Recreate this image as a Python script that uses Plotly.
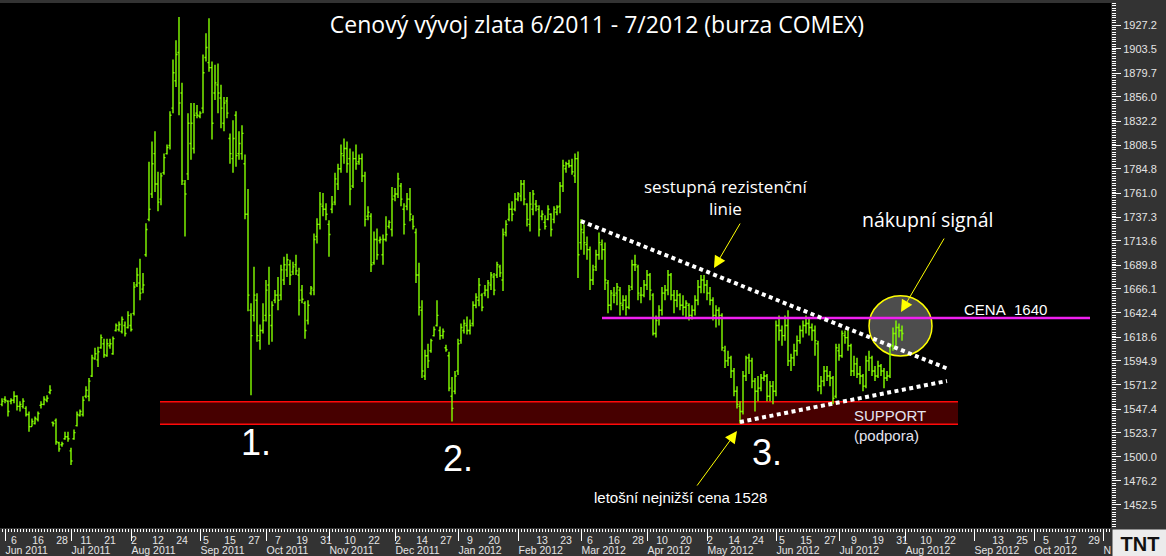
import pandas as pd
import plotly.graph_objects as go

# ---------------- calendar (trading days shown by the chart) ----------------
HOLIDAYS = ["2011-07-04", "2011-12-26", "2012-01-02", "2012-01-16", "2012-04-06"]
trade_days = [d for d in pd.bdate_range("2011-05-31", "2012-07-31")
              if d.strftime("%Y-%m-%d") not in HOLIDAYS]

# ---------------- daily OHLC, 31 May 2011 - 29 Feb 2012 ----------------
opens_a = [1552,1557,1555,1555,1556,1560,1550,1550,1548,1542,
           1530,1533,1537,1551,1552,1556,1564,1534,1536,1514,
           1512,1518,1520,1506,1518,1531,1541,1542,1560,1560,
           1580,1597,1596,1608,1612,1600,1610,1602,1625,1626,
           1624,1630,1628,1630,1642,1670,1672,1666,1700,1735,
           1760,1800,1770,1755,1781,1800,1808,1845,1872,1900,
           1860,1770,1780,1810,1805,1840,1837,1845,1895,1890,
           1885,1860,1868,1855,1830,1852,1815,1795,1838,1800,
           1800,1790,1740,1645,1640,1655,1615,1625,1640,1670,
           1630,1655,1660,1660,1675,1685,1690,1683,1690,1680,
           1665,1652,1635,1662,1665,1718,1730,1748,1745,1730,
           1745,1752,1770,1785,1798,1805,1795,1768,1795,1792,
           1795,1778,1738,1738,1692,1715,1714,1700,1715,1728,
           1725,1758,1760,1768,1745,1748,1755,1735,1722,1680,
           1645,1580,1600,1605,1620,1630,1625,1620,1608,1600,
           1560,1565,1585,1615,1625,1630,1625,1632,1650,1655,
           1660,1662,1665,1670,1678,1680,1688,1675,1722,1735,
           1745,1745,1755,1758,1770,1750,1730,1745,1750,1745,
           1738,1732,1735,1740,1735,1742,1748,1768,1785,1790,
           1788,1778,1795]
highs_a = [1558,1560,1556,1558,1565,1561,1555,1558,1550,1545,
           1538,1540,1545,1555,1560,1561,1571,1535,1538,1515,
           1515,1525,1525,1509,1527,1545,1547,1560,1570,1578,
           1601,1608,1609,1621,1617,1617,1617,1619,1632,1634,
           1639,1634,1644,1642,1673,1687,1696,1682,1731,1792,
           1812,1822,1782,1781,1800,1809,1842,1893,1912,1935,
           1870,1774,1840,1850,1850,1848,1842,1898,1919,1934,
           1891,1888,1889,1868,1856,1856,1820,1833,1842,1822,
           1828,1799,1765,1652,1688,1662,1631,1652,1675,1688,
           1654,1665,1678,1690,1698,1701,1695,1693,1700,1687,
           1670,1654,1655,1669,1721,1736,1762,1761,1751,1734,
           1758,1781,1790,1809,1815,1812,1805,1802,1809,1799,
           1800,1782,1748,1741,1723,1726,1718,1720,1738,1734,
           1767,1766,1781,1771,1751,1761,1766,1739,1726,1692,
           1655,1606,1612,1617,1629,1655,1629,1627,1611,1604,
           1579,1585,1617,1632,1636,1639,1636,1654,1662,1677,
           1662,1670,1675,1683,1682,1693,1690,1726,1734,1751,
           1753,1761,1762,1774,1774,1751,1762,1764,1754,1749,
           1744,1739,1749,1741,1748,1749,1772,1794,1792,1794,
           1795,1800,1802]
lows_a = [1550,1553,1540,1552,1553,1546,1545,1548,1540,1525,
          1530,1532,1535,1548,1551,1554,1562,1530,1512,1505,
          1510,1517,1515,1492,1517,1530,1540,1540,1558,1555,
          1579,1596,1589,1607,1598,1599,1607,1601,1624,1624,
          1622,1619,1627,1624,1640,1668,1655,1662,1698,1733,
          1756,1762,1743,1749,1779,1799,1804,1840,1866,1838,
          1769,1718,1774,1794,1800,1835,1835,1840,1891,1881,
          1814,1853,1840,1825,1822,1835,1790,1781,1787,1794,
          1794,1735,1644,1561,1634,1614,1606,1622,1634,1611,
          1614,1652,1645,1655,1670,1678,1670,1680,1680,1640,
          1652,1617,1631,1660,1660,1711,1725,1738,1734,1698,
          1741,1749,1764,1781,1790,1781,1749,1766,1784,1789,
          1772,1728,1734,1683,1690,1695,1711,1690,1713,1726,
          1718,1753,1756,1748,1720,1744,1733,1725,1672,1640,
          1578,1576,1588,1603,1619,1629,1616,1617,1604,1565,
          1535,1562,1581,1612,1622,1621,1621,1629,1647,1649,
          1644,1659,1657,1665,1660,1677,1678,1664,1718,1733,
          1733,1743,1753,1753,1749,1728,1723,1739,1743,1718,
          1734,1725,1734,1718,1731,1739,1741,1762,1781,1786,
          1779,1771,1677]
closes_a = [1555,1556,1545,1556,1560,1550,1552,1555,1542,1530,
            1535,1538,1543,1552,1557,1558,1566,1533,1515,1508,
            1513,1520,1518,1496,1524,1542,1545,1556,1566,1575,
            1598,1602,1604,1618,1601,1612,1612,1617,1630,1631,
            1636,1622,1640,1626,1668,1680,1662,1670,1725,1745,
            1790,1770,1752,1778,1796,1806,1838,1880,1898,1850,
            1773,1760,1830,1830,1838,1838,1840,1880,1905,1885,
            1830,1870,1860,1845,1850,1840,1800,1815,1798,1810,
            1820,1740,1660,1620,1660,1620,1625,1635,1665,1640,
            1650,1660,1655,1685,1690,1695,1680,1688,1684,1655,
            1656,1625,1650,1667,1715,1730,1750,1745,1740,1720,
            1750,1775,1785,1800,1805,1790,1765,1795,1790,1795,
            1778,1735,1742,1690,1715,1700,1715,1715,1720,1732,
            1755,1760,1775,1755,1730,1755,1740,1728,1680,1648,
            1585,1600,1595,1615,1626,1640,1620,1624,1606,1568,
            1548,1580,1612,1628,1632,1625,1630,1650,1658,1670,
            1648,1665,1672,1680,1665,1690,1682,1720,1730,1745,
            1740,1755,1760,1770,1755,1735,1750,1760,1748,1725,
            1740,1728,1745,1725,1745,1747,1768,1788,1790,1788,
            1782,1795,1700]

# ---------------- daily OHLC, 1 Mar 2012 - 31 Jul 2012 ----------------
opens_b = [1712,1722,1710,1705,1675,1688,1700,1710,1705,1672,1650,1660,1662,1665,1650,1655,1648,1668,1690,1688,1660,1660,
           1670,1680,1660,1622,1638,1645,1662,1665,1680,1660,1655,1660,1650,1648,1650,1640,1645,1655,1668,1675,
           1670,1662,1655,1640,1645,1640,1605,1595,1598,1585,1565,1550,1545,1580,1598,1595,1575,1565,1568,1578,1580,1560,1570,
           1565,1630,1625,1620,1630,1595,1598,1605,1615,1625,1630,1632,1628,1625,1612,1570,1575,1585,1580,1578,1560,
           1605,1600,1620,1618,1610,1585,1592,1582,1580,1570,1595,1598,1585,1580,1590,1585,1578,1580,1610,1622,1628,1625]
highs_b = [1735,1730,1718,1708,1690,1705,1722,1715,1712,1675,1665,1668,1672,1668,1660,1660,1670,1695,1700,1690,1668,1675,
           1685,1682,1662,1640,1650,1668,1670,1685,1682,1665,1665,1662,1660,1655,1652,1650,1660,1675,1680,1680,
           1675,1668,1658,1650,1648,1642,1610,1605,1600,1588,1570,1555,1585,1600,1602,1598,1578,1580,1582,1585,1582,1575,1575,
           1635,1640,1630,1640,1645,1602,1612,1620,1630,1635,1640,1638,1632,1630,1615,1580,1590,1590,1585,1580,1612,
           1612,1625,1625,1628,1612,1600,1598,1590,1582,1600,1605,1600,1590,1595,1592,1588,1585,1612,1628,1635,1632,1630]
lows_b = [1705,1700,1695,1665,1670,1684,1695,1695,1665,1642,1645,1652,1650,1640,1645,1640,1646,1665,1684,1655,1652,1658,
          1665,1655,1620,1618,1630,1640,1655,1660,1655,1642,1648,1645,1640,1638,1635,1636,1640,1650,1662,1662,
          1655,1650,1635,1628,1630,1605,1588,1590,1578,1560,1548,1533,1542,1575,1582,1568,1545,1555,1565,1575,1555,1555,1552,
          1560,1615,1610,1615,1590,1585,1590,1600,1612,1618,1622,1620,1615,1600,1565,1562,1570,1575,1570,1552,1558,
          1595,1598,1612,1605,1580,1580,1578,1572,1565,1568,1585,1580,1575,1578,1580,1568,1575,1578,1605,1610,1618,1615]
closes_b = [1725,1712,1705,1675,1685,1700,1712,1705,1675,1650,1662,1660,1668,1652,1655,1648,1665,1690,1690,1662,1660,1670,
            1680,1665,1622,1635,1645,1662,1665,1680,1660,1655,1660,1650,1648,1652,1640,1645,1655,1668,1675,1670,
            1662,1655,1640,1645,1640,1608,1595,1598,1585,1565,1552,1545,1580,1598,1595,1575,1565,1568,1578,1580,1560,1570,1565,
            1630,1625,1620,1630,1595,1598,1605,1615,1625,1630,1632,1628,1625,1615,1570,1575,1585,1580,1578,1558,1608,
            1600,1622,1618,1610,1585,1592,1582,1580,1570,1595,1598,1585,1580,1590,1585,1578,1580,1610,1622,1628,1625,1622]

opens = opens_a + opens_b
highs = highs_a + highs_b
lows = lows_a + lows_b
closes = closes_a + closes_b

# ---------------- axis labels ----------------
day_ticks = ["2011-06-06", "2011-06-16", "2011-06-28", "2011-07-11", "2011-07-21", "2011-08-02",
             "2011-08-12", "2011-08-24", "2011-09-05", "2011-09-15", "2011-09-27", "2011-10-07",
             "2011-10-19", "2011-10-31", "2011-11-10", "2011-11-22", "2011-12-02", "2011-12-14",
             "2011-12-27", "2012-01-09", "2012-01-20", "2012-02-13", "2012-02-23", "2012-03-06",
             "2012-03-16", "2012-03-28", "2012-04-10", "2012-04-20", "2012-05-02", "2012-05-14",
             "2012-05-24", "2012-06-05", "2012-06-15", "2012-06-27", "2012-07-09", "2012-07-19",
             "2012-07-31", "2012-08-10", "2012-08-22", "2012-09-13", "2012-09-25", "2012-10-05",
             "2012-10-17", "2012-10-29"]
day_text = [str(int(d[-2:])) for d in day_ticks]
month_ticks = ["2011-06-01", "2011-07-01", "2011-08-01", "2011-09-01", "2011-10-03", "2011-11-01",
               "2011-12-01", "2012-01-03", "2012-02-01", "2012-03-01", "2012-04-02", "2012-05-01",
               "2012-06-01", "2012-07-02", "2012-08-01", "2012-09-03", "2012-10-01", "2012-11-01"]
month_text = ["Jun 2011", "Jul 2011", "Aug 2011", "Sep 2011", "Oct 2011", "Nov 2011", "Dec 2011",
              "Jan 2012", "Feb 2012", "Mar 2012", "Apr 2012", "May 2012", "Jun 2012", "Jul 2012",
              "Aug 2012", "Sep 2012", "Oct 2012", "N"]
price_ticks = [1452.5, 1476.2, 1500.0, 1523.7, 1547.4, 1571.2, 1594.9, 1618.6, 1642.4, 1666.1, 1689.8,
               1713.6, 1737.3, 1761.0, 1784.8, 1808.5, 1832.2, 1856.0, 1879.7, 1903.5, 1927.2]
price_text = [f"{v:.1f}" for v in price_ticks]

GREEN = "#84ff00"
X_RANGE = ["2011-05-30 08:00", "2012-11-05 16:00"]
Y_RANGE = [1429.7, 1948.96]
BREAKS = [dict(bounds=["sat", "mon"]), dict(values=HOLIDAYS)]
AXFONT = dict(family="Liberation Sans, Arial", size=11, color="#e4e4e4")
XFONT = dict(family="Liberation Sans, Arial", size=10.5, color="#e4e4e4")

fig = go.Figure()
fig.add_trace(go.Ohlc(
    x=trade_days, open=opens, high=highs, low=lows, close=closes,
    increasing=dict(line=dict(color=GREEN, width=1.4)),
    decreasing=dict(line=dict(color=GREEN, width=1.4)),
    tickwidth=0.5, hoverinfo="skip", showlegend=False))
fig.add_trace(go.Scatter(x=[month_ticks[0]], y=[None], xaxis="x2", yaxis="y",
                         mode="markers", showlegend=False, hoverinfo="skip"))

WHITE_DOTS = dict(color="white", width=4, dash="4px,3.5px")
shapes = [
    # support zone
    dict(type="rect", xref="x", yref="y", x0="2011-08-12 16:00", x1="2012-08-24 16:00",
         y0=1532.3, y1=1554.6, fillcolor="#470000", line=dict(width=0), layer="below"),
    dict(type="line", xref="x", yref="y", x0="2011-08-12 16:00", x1="2012-08-24 16:00",
         y0=1554.6, y1=1554.6, line=dict(color="#ff0a0a", width=1.5), layer="below"),
    dict(type="line", xref="x", yref="y", x0="2011-08-12 16:00", x1="2012-08-24 16:00",
         y0=1532.3, y1=1532.3, line=dict(color="#ff0a0a", width=1.5), layer="below"),
    # buy-signal circle
    dict(type="circle", xref="x", yref="y", x0="2012-07-16", x1="2012-08-14",
         y0=1599.9, y1=1659.3, fillcolor="#4d4d4d", line=dict(color="#ffff00", width=1.5), layer="below"),
    # price level 1640
    dict(type="line", xref="x", yref="y", x0="2012-03-12", x1="2012-10-25 16:00",
         y0=1637.4, y1=1637.4, line=dict(color="#f020f0", width=2.5)),
    # descending resistance / rising support
    dict(type="line", xref="x", yref="y", x0="2012-03-01", y0=1733.3, x1="2012-08-21", y1=1587.5,
         line=WHITE_DOTS),
    dict(type="line", xref="x", yref="y", x0="2012-05-16", y0=1534.6, x1="2012-08-21", y1=1575.1,
         line=WHITE_DOTS),
]

def label(x, y, text, size, family="Liberation Sans, Arial", color="white", **kw):
    return dict(x=x, y=y, xref="x", yref="y", text=text, showarrow=False,
                font=dict(family=family, size=size, color=color), **kw)

def arrow(x, y, ax, ay):
    return dict(x=x, y=y, xref="x", yref="y", ax=ax, ay=ay, text="", showarrow=True,
                arrowhead=2, arrowsize=2.4, arrowwidth=1, arrowcolor="#ffff00", standoff=0)

annotations = [
    label("2012-05-09", 1756.6, "sestupná rezistenční<br>linie", 17, family="Open Sans"),
    label("2012-08-10 08:00", 1735.3, "nákupní signál", 19.5, family="Open Sans"),
    label("2012-08-28", 1646.3, "CENA&nbsp; 1640", 15, xanchor="left"),
    label("2012-07-06 08:00", 1531.0, "SUPPORT<br>(podpora)", 15, color="#e4e4f0",
          xanchor="left", align="left"),
    label("2012-04-18", 1460.3, "letošní nejnižší cena 1528", 15),
    label("2011-09-27 16:00", 1513.8, "1.", 36),
    label("2012-01-03", 1498.9, "2.", 36),
    label("2012-05-29", 1504.8, "3.", 36),
    arrow("2012-05-03 08:00", 1686.8, 27, -46),
    arrow("2012-07-30 16:00", 1643.3, 44, -75),
    arrow("2012-05-15", 1525.6, -41, 56),
    dict(xref="paper", yref="paper", x=1.0, xshift=1, y=0, yshift=-1, xanchor="left", yanchor="top",
         text="<b>TNT</b>", showarrow=False, bgcolor="#ececec", width=50, height=23, borderpad=2,
         font=dict(family="Liberation Sans, Arial", size=20, color="#111111")),
]

fig.update_layout(
    width=1166, height=556,
    margin=dict(l=0, r=55, t=3, b=28, autoexpand=False),
    paper_bgcolor="#333333", plot_bgcolor="#000000",
    showlegend=False, hovermode=False,
    font=dict(family="Liberation Sans, Arial", color="white"),
    title=dict(text="Cenový vývoj zlata 6/2011 - 7/2012 (burza COMEX)", x=0.512, xanchor="center",
               y=0.955, yanchor="middle", font=dict(family="Open Sans", size=23, color="white")),
    xaxis=dict(type="date", range=X_RANGE, rangebreaks=BREAKS, rangeslider=dict(visible=False),
               tickmode="array", tickvals=day_ticks, ticktext=day_text,
               ticks="outside", ticklen=3, tickcolor="white", tickwidth=1, tickfont=XFONT,
               ticklabelstandoff=-1,
               minor=dict(ticks="outside", ticklen=3, tickcolor="white", tickwidth=1,
                          tick0="2011-05-31", dtick=86400000),
               showgrid=False, zeroline=False, showline=False, automargin=False),
    xaxis2=dict(type="date", overlaying="x", side="bottom", anchor="y", range=X_RANGE,
                rangebreaks=BREAKS, rangeslider=dict(visible=False),
                tickmode="array", tickvals=month_ticks, ticktext=month_text,
                ticks="outside", ticklen=12, tickcolor="white", tickwidth=1,
                ticklabelposition="outside right", ticklabelstandoff=12, tickfont=XFONT,
                showgrid=False, zeroline=False, showline=False, automargin=False),
    yaxis=dict(side="right", range=Y_RANGE, tickmode="array", tickvals=price_ticks, ticktext=price_text,
               ticks="outside", ticklen=9, tickcolor="white", tickwidth=1, tickfont=AXFONT,
               minor=dict(ticks="outside", ticklen=4, tickcolor="white", tickwidth=1,
                          tick0=1452.5, dtick=2.3735),
               showgrid=False, zeroline=False, showline=False, automargin=False),
    shapes=shapes, annotations=annotations,
)

fig.write_html("out.html", config={"displayModeBar": False, "staticPlot": True},
               post_script="document.body.style.margin='0';document.body.style.overflow='hidden';")
